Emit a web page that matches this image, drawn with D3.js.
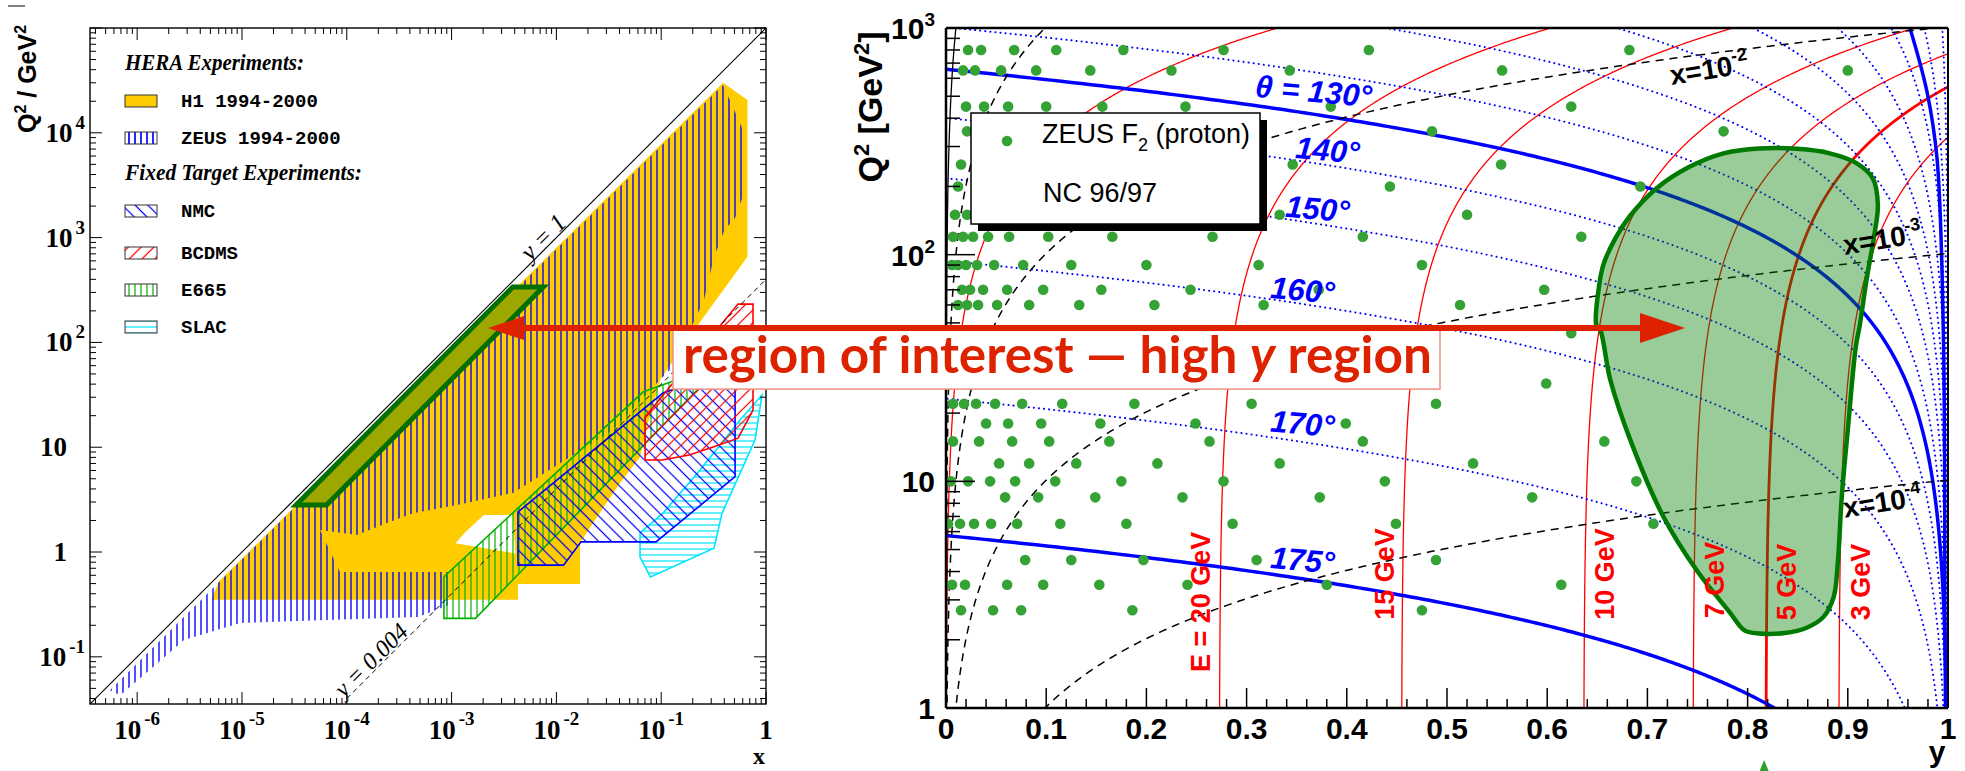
<!DOCTYPE html>
<html>
<head>
<meta charset="utf-8">
<script src="https://cdn.jsdelivr.net/npm/d3@7"></script>
<style>
  body { margin: 0; background: #fff; }
</style>
</head>
<body>
<svg id="chart" width="1965" height="771"></svg>
<script>
// ---------------- left panel: (x, Q2) coverage ----------------
const h1Region = [[5.1e-6,0.35],[6.0e-6,0.52],[0.39,30000],[0.665,20600],[0.665,658],[0.235,157],
  [0.0975,43.8],[0.0733,15.6],[0.0628,8.05],[0.0405,4.55],[0.0244,2.16],[0.0168,1.22],
  [0.0168,0.495],[0.0043,0.495],[0.0043,0.35]];
const h1Gap = [[0.00203,2.25],[0.00384,2.25],[0.00406,0.97],[0.00109,1.21],[0.00132,1.51]];
const zeusHigh = [[2.87e-5,2.41],[0.389,28600],[0.507,15800],[0.631,9530],[0.631,2845],[0.507,1540],
  [0.402,1183],[0.319,653],[0.256,254],[0.188,131],[0.121,54.6],[0.0912,41],[0.0347,14.6],
  [0.00385,3.66],[0.00113,2.81],[4.29e-4,2.35],[2.42e-4,1.89],[1.25e-4,1.45],[5.56e-5,1.62]];
const zeusLow = [[5.5e-7,0.048],[2.87e-5,2.41],[5.56e-5,1.62],[8.6e-5,0.644],[9.46e-4,0.644],
  [9.46e-4,0.312],[4.79e-4,0.24],[9.6e-6,0.21],[2.8e-6,0.145],[1.42e-6,0.08],[6.9e-7,0.043]];
const e665Region = [[8.45e-4,0.233],[1.69e-3,0.233],[0.262,41.9],[0.13,42.8],[0.0671,33.6],[8.45e-4,0.58]];
const nmcRegion = [[0.0043,0.75],[0.0117,0.75],[0.0172,1.25],[0.0893,1.25],[0.507,5.23],[0.507,36.7],
  [0.235,43.8],[0.104,32.9],[0.0043,2.41]];
const bcdmsRegion = [[0.0702,7.55],[0.102,7.55],[0.185,8.43],[0.319,10.1],[0.541,12.2],[0.752,22.6],
  [0.752,232],[0.541,232],[0.0702,19.4]];
const slacRegion = [[0.079,0.577],[0.0628,0.895],[0.0628,1.52],[0.104,2.35],[0.235,6.06],[0.565,18.2],
  [0.916,31.5],[0.785,11.7],[0.381,2.35],[0.319,1.09]];
const focusBox = [[3.28e-5,2.81],[6.41e-5,2.81],[0.0075,338],[0.00384,338]];
const yConst = [1, 0.004];
const legendNames = ['H1 1994-2000', 'ZEUS 1994-2000', 'NMC', 'BCDMS', 'E665', 'SLAC'];

// ---------------- right panel: ZEUS NC 96/97 bins (y per Q2 row) ----------------
const zeusQ2 = [800, 650, 450, 350, 250, 200, 150, 120, 90, 70, 60, 45, 27, 22, 18, 15, 12, 10, 8.5, 6.5, 4.5, 3.5, 2.7];
const zeusY = [
  [0.022, 0.035, 0.068, 0.110, 0.177, 0.277, 0.422, 0.682],
  [0.017, 0.029, 0.055, 0.090, 0.144, 0.225, 0.343, 0.555, 0.900],
  [0.020, 0.038, 0.062, 0.100, 0.156, 0.239, 0.384, 0.624],
  [0.021, 0.485, 0.776],
  [0.015, 0.346, 0.554],
  [0.012, 0.443, 0.693],
  [0.009, 0.021, 0.333, 0.520],
  [0.007, 0.017, 0.027, 0.042, 0.063, 0.102, 0.166, 0.266, 0.416, 0.634],
  [0.006, 0.012, 0.020, 0.031, 0.048, 0.077, 0.125, 0.200, 0.312, 0.475],
  [0.016, 0.024, 0.037, 0.061, 0.097, 0.155, 0.244, 0.372, 0.597],
  [0.012, 0.021, 0.032, 0.051, 0.083, 0.133, 0.208, 0.317, 0.513],
  [0.624],
  [0.599],
  [0.007, 0.018, 0.030, 0.049, 0.076, 0.116, 0.188, 0.305, 0.489],
  [0.040, 0.062, 0.095, 0.154, 0.249, 0.399],
  [0.007, 0.033, 0.066, 0.103, 0.163, 0.263, 0.416, 0.657],
  [0.053, 0.083, 0.130, 0.211, 0.333, 0.526],
  [0.005, 0.022, 0.044, 0.069, 0.109, 0.175, 0.277, 0.438, 0.689],
  [0.059, 0.092, 0.149, 0.236, 0.373, 0.585],
  [0.002, 0.014, 0.028, 0.045, 0.071, 0.114, 0.180, 0.286, 0.449, 0.706],
  [0.079, 0.125, 0.197, 0.310, 0.489],
  [0.006, 0.019, 0.061, 0.097, 0.153, 0.241, 0.380, 0.614],
  [0.015, 0.047, 0.075, 0.186, 0.475]
];
// kinematic grid: scattered electron energy, angle and Bjorken x
const ePrime = [27.5, 20, 15, 10, 7, 5, 3];
const eLabels = ['', 'E = 20 GeV', '15 GeV', '10 GeV', '7 GeV', '5 GeV', '3 GeV'];
const eLabelAt = [null, [0.2545, 2.94], [0.438, 3.9], [0.658, 3.9], [0.7675, 3.67], [0.839, 3.6], [0.913, 3.6]];
const thetaSolid = [130, 175];
const thetaDotted = [15, 30, 45, 60, 75, 90, 105, 120, 140, 150, 160, 170];
const thetaLabels = ['\u03B8 = 130\u00B0', '140\u00B0', '150\u00B0', '160\u00B0', '170\u00B0', '175\u00B0'];
const thetaLabelAt = [[0.308, 497], [0.348, 267], [0.338, 147], [0.323, 64.4], [0.323, 16.6], [0.323, 4.15]];
const xLines = [1e-1, 1e-2, 1e-3, 1e-4];
const xLabelExp = ['-2', '-3', '-4'];
const xLabelAt = [[0.724, 561], [0.897, 100], [0.897, 6.9]];
const edgeBlue = [[0.962, 1000], [0.979, 524], [0.989, 267], [0.9953, 46.6], [0.997, 2.2], [0.9975, 1]];
const highYRegion = [[0.653,46.5],[0.649,48.9],[0.651,68.7],[0.656,90.1],[0.668,118],[0.682,147],[0.709,196],
  [0.742,244],[0.776,280],[0.812,294],[0.849,293],[0.882,280],[0.909,253],[0.925,217],[0.930,166],
  [0.927,126],[0.919,79],[0.912,49],[0.908,39.3],[0.900,16.9],[0.894,8.57],[0.890,4.36],[0.886,3.10],
  [0.876,2.53],[0.859,2.26],[0.837,2.14],[0.812,2.13],[0.797,2.2],[0.782,2.65],[0.749,4.06],
  [0.716,6.98],[0.683,15.2],[0.663,28]];

const Ee = 27.5, Ep = 920;
const sHERA = 4 * Ee * Ep;

const svg = d3.select('#chart');
const defs = svg.append('defs');

function hatch(id, color, angle, gap, width) {
  const p = defs.append('pattern').attr('id', id).attr('patternUnits', 'userSpaceOnUse')
    .attr('width', gap).attr('height', gap).attr('patternTransform', 'rotate(' + angle + ')');
  p.append('line').attr('x1', gap / 2).attr('y1', -1).attr('x2', gap / 2).attr('y2', gap + 1)
    .attr('stroke', color).attr('stroke-width', width);
}
hatch('zeusHatch', '#0000ff', 0, 6, 1.7);
hatch('e665Hatch', '#00b000', 0, 6, 1.2);
hatch('nmcHatch', '#0000ff', -45, 9, 1.2);
hatch('bcdmsHatch', '#ff0000', 45, 9, 1.2);
hatch('slacHatch', '#00e5ff', 90, 6, 1.2);

// ================= LEFT PANEL =================
const lx = d3.scaleLog().domain([Math.pow(10, -6.45), 1]).range([90, 766]);
const lq = d3.scaleLog().domain([Math.pow(10, -1.45), 1e5]).range([704, 28]);

defs.append('clipPath').attr('id', 'clipL').append('rect')
  .attr('x', 90).attr('y', 28).attr('width', 676).attr('height', 676);

const left = svg.append('g');
const gL = left.append('g').attr('clip-path', 'url(#clipL)');
const lpath = d3.line().x(d => lx(d[0])).y(d => lq(d[1]));

gL.append('path').attr('d', lpath(h1Region) + 'Z').attr('fill', '#ffcc00');
gL.append('path').attr('d', lpath(h1Gap) + 'Z').attr('fill', '#fff');
[zeusHigh, zeusLow].forEach(r => {
  gL.append('path').attr('d', lpath(r) + 'Z').attr('fill', 'url(#zeusHatch)').attr('opacity', 0.8);
});

const fixedTargets = [
  {pts: e665Region, pat: 'e665Hatch', col: '#00b000'},
  {pts: slacRegion, pat: 'slacHatch', col: '#00e5ff'},
  {pts: nmcRegion, pat: 'nmcHatch', col: '#0000ff'},
  {pts: bcdmsRegion, pat: 'bcdmsHatch', col: '#ff0000'}
];
fixedTargets.forEach(f => {
  gL.append('path').attr('d', lpath(f.pts) + 'Z')
    .attr('fill', 'url(#' + f.pat + ')').attr('stroke', f.col).attr('stroke-width', 1.6);
});

gL.append('path').attr('d', lpath(focusBox) + 'Z')
  .attr('fill', '#9ca800').attr('stroke', '#007000').attr('stroke-width', 5);

// lines of constant y: Q2 = s x y
yConst.forEach((yv, i) => {
  const x0 = i === 0 ? lx.domain()[0] : 1e-4;
  gL.append('path').attr('d', lpath([[x0, 1e5 * yv * x0], [1, 1e5 * yv]]))
    .attr('stroke', '#000').attr('stroke-width', i === 0 ? 1.2 : 1)
    .attr('stroke-dasharray', i === 0 ? null : '5,4').attr('fill', 'none');
});
left.append('text').attr('transform', 'translate(' + lx(0.00746) + ',' + lq(1014) + ') rotate(-45)')
  .attr('text-anchor', 'middle').attr('dominant-baseline', 'central')
  .attr('font-family', 'Liberation Serif').attr('font-style', 'italic').attr('font-size', 25).text('y = 1');
left.append('text').attr('transform', 'translate(' + lx(1.7e-4) + ',' + lq(0.0931) + ') rotate(-45)')
  .attr('text-anchor', 'middle').attr('dominant-baseline', 'central')
  .attr('font-family', 'Liberation Serif').attr('font-style', 'italic').attr('font-size', 24).text('y = 0.004');

// frame + ticks
left.append('rect').attr('x', 90).attr('y', 28).attr('width', 676).attr('height', 676)
  .attr('fill', 'none').attr('stroke', '#000').attr('stroke-width', 1.4);
const isDecade = v => Math.abs(Math.log10(v) - Math.round(Math.log10(v))) < 1e-6;
lx.ticks().forEach(v => {
  const X = lx(v), len = isDecade(v) ? 12 : 6;
  left.append('line').attr('x1', X).attr('x2', X).attr('y1', 704).attr('y2', 704 - len).attr('stroke', '#000');
  left.append('line').attr('x1', X).attr('x2', X).attr('y1', 28).attr('y2', 28 + len).attr('stroke', '#000');
});
lq.ticks().forEach(v => {
  const Y = lq(v), len = isDecade(v) ? 12 : 6;
  left.append('line').attr('x1', 90).attr('x2', 90 + len).attr('y1', Y).attr('y2', Y).attr('stroke', '#000');
  left.append('line').attr('x1', 766).attr('x2', 766 - len).attr('y1', Y).attr('y2', Y).attr('stroke', '#000');
});

const serif = 'Liberation Serif';
[-6, -5, -4, -3, -2, -1, 0].forEach(e => {
  const t = left.append('text').attr('x', lx(Math.pow(10, e))).attr('y', 739).attr('text-anchor', 'middle')
    .attr('font-family', serif).attr('font-weight', 'bold').attr('font-size', 27);
  if (e === 0) { t.text('1'); return; }
  t.append('tspan').text('10');
  t.append('tspan').attr('dy', -14).attr('dx', 3).attr('font-size', 19).text(String(e));
});
[-1, 0, 1, 2, 3, 4].forEach(e => {
  const Y = lq(Math.pow(10, e));
  const t = left.append('text').attr('y', Y + 9).attr('text-anchor', 'end')
    .attr('font-family', serif).attr('font-weight', 'bold').attr('font-size', 27);
  if (e === 0 || e === 1) { t.attr('x', 67).text(e === 0 ? '1' : '10'); return; }
  t.attr('x', 85);
  t.append('tspan').text('10');
  t.append('tspan').attr('dy', -13).attr('dx', 3).attr('font-size', 19).text(String(e));
});
left.append('text').attr('x', 759).attr('y', 764).attr('text-anchor', 'middle')
  .attr('font-family', serif).attr('font-weight', 'bold').attr('font-size', 24).text('x');
const lt = left.append('text').attr('transform', 'translate(36,79) rotate(-90)').attr('text-anchor', 'middle')
  .attr('font-family', 'Liberation Sans').attr('font-weight', 'bold').attr('font-size', 25);
lt.append('tspan').text('Q');
lt.append('tspan').attr('dy', -10).attr('font-size', 16).text('2');
lt.append('tspan').attr('dy', 10).text(' / GeV');
lt.append('tspan').attr('dy', -10).attr('font-size', 16).text('2');
left.append('line').attr('x1', 8).attr('x2', 25).attr('y1', 6).attr('y2', 6).attr('stroke', '#000');

// legend
left.append('text').attr('x', 125).attr('y', 70).attr('font-family', serif).attr('font-style', 'italic')
  .attr('font-weight', 'bold').attr('font-size', 23).attr('textLength', 179).attr('lengthAdjust', 'spacingAndGlyphs')
  .text('HERA Experiments:');
left.append('text').attr('x', 125).attr('y', 180).attr('font-family', serif).attr('font-style', 'italic')
  .attr('font-weight', 'bold').attr('font-size', 23).attr('textLength', 237).attr('lengthAdjust', 'spacingAndGlyphs')
  .text('Fixed Target Experiments:');
const legendRowY = [101, 138, 211, 253, 290, 327];
const legendFill = ['#ffcc00', 'url(#zeusHatch)', 'url(#nmcHatch)', 'url(#bcdmsHatch)', 'url(#e665Hatch)', 'url(#slacHatch)'];
legendNames.forEach((n, i) => {
  const cy = legendRowY[i];
  left.append('rect').attr('x', 125).attr('y', cy - 6).attr('width', 32).attr('height', 12)
    .attr('fill', legendFill[i]).attr('stroke', '#333').attr('stroke-width', 1);
  left.append('text').attr('x', 181).attr('y', cy + 6).attr('font-family', 'Liberation Mono')
    .attr('font-weight', 'bold').attr('font-size', 19).text(n);
});

// ================= RIGHT PANEL =================
const ry = d3.scaleLinear().domain([0, 1]).range([946, 1948]);
const rq = d3.scaleLog().domain([1, 1000]).range([708, 28]);
defs.append('clipPath').attr('id', 'clipR').append('rect')
  .attr('x', 946).attr('y', 28).attr('width', 1002).attr('height', 680);

const right = svg.append('g');
const gR = right.append('g').attr('clip-path', 'url(#clipR)');
const rpath = d3.line().x(d => ry(Math.max(-0.05, Math.min(1.05, d[0])))).y(d => rq(d[1]));
const qSamples = d3.range(-20, 621).map(i => Math.pow(10, i / 200));

const cot2 = th => Math.pow(1 / Math.tan(th * Math.PI / 360), 2);
const thetaCurve = th => qSamples.map(q => [1 - q / (4 * Ee * Ee * cot2(th)), q]);
const eCurve = e => qSamples.map(q => [1 - (e - q / (4 * Ee)) / Ee, q]);
const xCurve = xb => qSamples.map(q => [q / (sHERA * xb), q]);

// E' lines (red)
ePrime.forEach(e => {
  gR.append('path').attr('d', rpath(eCurve(e))).attr('fill', 'none')
    .attr('stroke', '#ff0000').attr('stroke-width', e === 5 ? 2.8 : 1.3);
});
// theta lines (blue)
thetaDotted.forEach(th => {
  gR.append('path').attr('d', rpath(thetaCurve(th))).attr('fill', 'none')
    .attr('stroke', '#0000ff').attr('stroke-width', 2).attr('stroke-linecap', 'round')
    .attr('stroke-dasharray', '0.1,5');
});
thetaSolid.forEach(th => {
  gR.append('path').attr('d', rpath(thetaCurve(th))).attr('fill', 'none')
    .attr('stroke', '#0000ff').attr('stroke-width', 3.5);
});
gR.append('path').attr('d', d3.line().curve(d3.curveCatmullRom).x(d => ry(d[0])).y(d => rq(d[1]))(edgeBlue))
  .attr('fill', 'none').attr('stroke', '#0000ff').attr('stroke-width', 3.5);
// x lines (black dashed) and x = 1 limit
xLines.forEach(xb => {
  gR.append('path').attr('d', rpath(xCurve(xb))).attr('fill', 'none')
    .attr('stroke', '#000').attr('stroke-width', 1.5).attr('stroke-dasharray', '8,6');
});
gR.append('path').attr('d', rpath(xCurve(1))).attr('fill', 'none').attr('stroke', '#000').attr('stroke-width', 1.3);

// ZEUS points
zeusQ2.forEach((q, i) => {
  zeusY[i].forEach(yv => {
    gR.append('circle').attr('cx', ry(yv)).attr('cy', rq(q)).attr('r', 5.3).attr('fill', '#35a235');
  });
});

// labels on the grid
const sans = 'Liberation Sans';
thetaLabels.forEach((t, i) => {
  const p = thetaLabelAt[i];
  right.append('text').attr('transform', 'translate(' + ry(p[0]) + ',' + rq(p[1]) + ') rotate(5)')
    .attr('font-family', sans).attr('font-weight', 'bold').attr('font-style', 'italic')
    .attr('font-size', 31).attr('fill', '#0000ff').text(t);
});
eLabels.forEach((t, i) => {
  if (!t) return;
  const p = eLabelAt[i];
  right.append('text').attr('transform', 'translate(' + ry(p[0]) + ',' + rq(p[1]) + ') rotate(-90)')
    .attr('text-anchor', 'middle').attr('dominant-baseline', 'central')
    .attr('font-family', sans).attr('font-weight', 'bold').attr('font-size', 27).attr('fill', '#ff0000').text(t);
});
xLabelExp.forEach((ex, i) => {
  const p = xLabelAt[i];
  const t = right.append('text').attr('transform', 'translate(' + ry(p[0]) + ',' + rq(p[1]) + ') rotate(-9)')
    .attr('font-family', sans).attr('font-weight', 'bold').attr('font-size', 28).attr('fill', '#000');
  t.append('tspan').text('x=10');
  t.append('tspan').attr('dy', -13).attr('font-size', 18).text(ex);
});

// high-y region of interest (translucent green over the grid)
gR.append('path').attr('d', d3.line().curve(d3.curveCatmullRomClosed).x(d => ry(d[0])).y(d => rq(d[1]))(highYRegion))
  .attr('fill', 'rgba(0,128,0,0.4)').attr('stroke', '#007a00').attr('stroke-width', 4.5);

// legend box
right.append('rect').attr('x', 978).attr('y', 120).attr('width', 289).attr('height', 111).attr('fill', '#000');
right.append('rect').attr('x', 971).attr('y', 113).attr('width', 289).attr('height', 111)
  .attr('fill', '#fff').attr('stroke', '#000').attr('stroke-width', 1.5);
right.append('circle').attr('cx', 1007).attr('cy', 141).attr('r', 5.3).attr('fill', '#35a235');
const lg = right.append('text').attr('x', 1042).attr('y', 143).attr('font-family', sans).attr('font-size', 27);
lg.append('tspan').text('ZEUS F');
lg.append('tspan').attr('dy', 8).attr('font-size', 18).text('2');
lg.append('tspan').attr('dy', -8).text(' (proton)');
right.append('text').attr('x', 1043).attr('y', 202).attr('font-family', sans).attr('font-size', 27).text('NC 96/97');

// axes
right.append('line').attr('x1', 946).attr('x2', 1948).attr('y1', 28).attr('y2', 28).attr('stroke', '#000').attr('stroke-width', 2.5);
right.append('line').attr('x1', 1948).attr('x2', 1948).attr('y1', 28).attr('y2', 708).attr('stroke', '#000').attr('stroke-width', 2);
right.append('line').attr('x1', 946).attr('x2', 1948).attr('y1', 708).attr('y2', 708).attr('stroke', '#000').attr('stroke-width', 2.5);
right.append('line').attr('x1', 946).attr('x2', 946).attr('y1', 28).attr('y2', 708).attr('stroke', '#000').attr('stroke-width', 2.5);
d3.range(0, 51).forEach(i => {
  const v = i / 50, X = ry(v), major = i % 5 === 0;
  right.append('line').attr('x1', X).attr('x2', X).attr('y1', 708).attr('y2', 708 - (major ? 20 : 9))
    .attr('stroke', '#000').attr('stroke-width', 1.5);
  if (major) {
    right.append('text').attr('x', X).attr('y', 739).attr('text-anchor', 'middle')
      .attr('font-family', sans).attr('font-weight', 'bold').attr('font-size', 30)
      .text(i === 0 ? '0' : i === 50 ? '1' : d3.format('.1f')(v));
  }
});
rq.ticks().forEach(v => {
  const Y = rq(v), major = isDecade(v);
  right.append('line').attr('x1', 946).attr('x2', 946 + (major ? 29 : 14)).attr('y1', Y).attr('y2', Y)
    .attr('stroke', '#000').attr('stroke-width', 1.5);
});
[0, 1, 2, 3].forEach(e => {
  const t = right.append('text').attr('x', 935).attr('y', rq(Math.pow(10, e)) + 11).attr('text-anchor', 'end')
    .attr('font-family', sans).attr('font-weight', 'bold').attr('font-size', 30);
  if (e < 2) { t.text(e === 0 ? '1' : '10'); return; }
  t.append('tspan').text('10');
  t.append('tspan').attr('dy', -13).attr('font-size', 19).text(String(e));
});
right.append('text').attr('x', 1937).attr('y', 762).attr('text-anchor', 'middle')
  .attr('font-family', sans).attr('font-weight', 'bold').attr('font-size', 30).text('y');
const rt = right.append('text').attr('transform', 'translate(882,107) rotate(-90)').attr('text-anchor', 'middle')
  .attr('font-family', sans).attr('font-weight', 'bold').attr('font-size', 34);
rt.append('tspan').text('Q');
rt.append('tspan').attr('dy', -13).attr('font-size', 22).text('2');
rt.append('tspan').attr('dy', 13).text(' [GeV');
rt.append('tspan').attr('dy', -13).attr('font-size', 22).text('2');
rt.append('tspan').attr('dy', 13).text(']');
right.append('path')
  .attr('d', 'M' + (ry(0.8165) - 4.5) + ',771L' + ry(0.8165) + ',760L' + (ry(0.8165) + 4.5) + ',771Z')
  .attr('fill', '#2ca02c');

// ================= arrow + caption across both panels =================
const tipL = [lx(0.00223), lq(137)];
const tipR = [ry(0.7375), rq(47.5)];
const ay = tipL[1];
svg.append('rect').attr('x', 673).attr('y', ay - 1).attr('width', 767).attr('height', 62)
  .attr('fill', '#fff').attr('stroke', '#f09080').attr('stroke-width', 1.5);
const red = '#dd2200';
svg.append('line').attr('x1', tipL[0] + 30).attr('x2', tipR[0] - 40).attr('y1', ay).attr('y2', ay)
  .attr('stroke', red).attr('stroke-width', 6);
svg.append('path').attr('d', 'M' + tipL[0] + ',' + ay + 'L' + (tipL[0] + 36) + ',' + (ay - 12) + 'L' + (tipL[0] + 36) + ',' + (ay + 12) + 'Z').attr('fill', red);
svg.append('path').attr('d', 'M' + tipR[0] + ',' + ay + 'L' + (tipR[0] - 45) + ',' + (ay - 15) + 'L' + (tipR[0] - 45) + ',' + (ay + 15) + 'Z').attr('fill', red);
const cap = svg.append('text').attr('x', 683).attr('y', ay + 45).attr('font-family', 'Lato')
  .attr('font-weight', 'bold').attr('font-size', 42).attr('fill', red);
cap.append('tspan').text('region of interest \u2014 high ');
cap.append('tspan').attr('font-style', 'italic').text('y');
cap.append('tspan').text(' region');
const capW = cap.node().getComputedTextLength();
cap.attr('font-size', 42 * 749 / capW);
</script>
</body>
</html>
